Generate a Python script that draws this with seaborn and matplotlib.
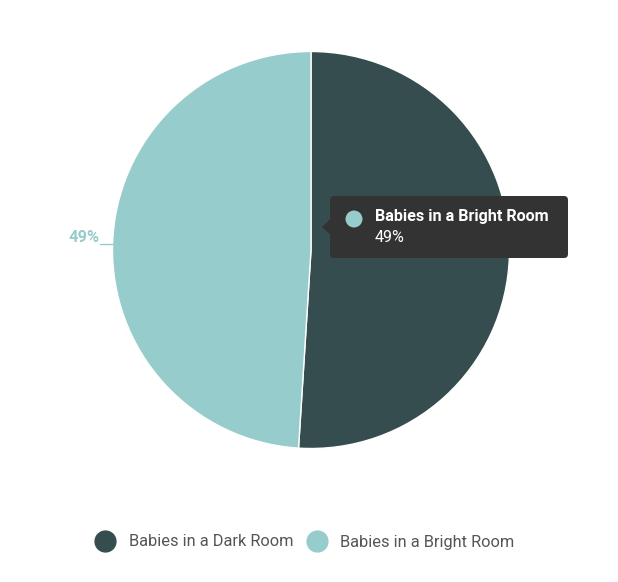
import matplotlib
matplotlib.use("Agg")
import matplotlib.pyplot as plt
import seaborn as sns
from matplotlib.patches import FancyBboxPatch, Polygon, Circle
from matplotlib.lines import Line2D

categories = ["Babies in a Dark Room", "Babies in a Bright Room"]
shares = [51, 49]
colors = ["#364d4f", "#96cccb"]

sns.set_theme(style="white")
plt.rcParams["font.family"] = ["Roboto", "DejaVu Sans"]

W, H = 618, 582
fig = plt.figure(figsize=(W / 100, H / 100), dpi=100)
ax = fig.add_axes([0, 0, 1, 1])


def Y(y):
    # flip pixel rows so positions read like the picture
    return H - y


cx, cy, r = 311, 250, 198.5
ax.pie(shares, colors=colors, startangle=90, counterclock=False,
       center=(cx, Y(cy)), radius=r,
       wedgeprops=dict(edgecolor="white", linewidth=1))
ax.set_xlim(0, W)
ax.set_ylim(0, H)
ax.set_aspect("equal")
ax.axis("off")

# outside label for the bright slice
ax.text(100, Y(238), f"{shares[1]}%", color=colors[1], fontsize=11.8,
        fontweight="bold", ha="right", va="center")
ax.plot([100, 113], [Y(244), Y(244)], color=colors[1], lw=1)

# tooltip
box = FancyBboxPatch((330, Y(258)), 238, 62, boxstyle="round,pad=0,rounding_size=4",
                     fc="#333333", ec="none", zorder=5)
ax.add_patch(box)
ax.add_patch(Polygon([(330.5, Y(219)), (322, Y(227)), (330.5, Y(235))],
                     closed=True, fc="#333333", ec="none", zorder=5))
ax.add_patch(Circle((354, Y(219)), 8.5, fc=colors[1], ec="none", zorder=6))
ax.text(375, Y(217), categories[1], color="white", fontsize=11.6, fontweight="bold",
        ha="left", va="center", zorder=6)
ax.text(375, Y(237), f"{shares[1]}%", color="white", fontsize=11.6,
        ha="left", va="center", zorder=6)

# legend
handles = [Line2D([], [], marker="o", linestyle="none", markersize=15,
                  markerfacecolor=c, markeredgecolor=c) for c in colors]
ax.legend(handles, categories, loc="center", ncol=2, frameon=False,
          bbox_to_anchor=(305 / W, 1 - 542 / H), fontsize=11.8,
          labelcolor="#555555", handletextpad=0.85, columnspacing=0.8,
          handlelength=1.2)

fig.savefig("out.png", dpi=100, facecolor="white")
